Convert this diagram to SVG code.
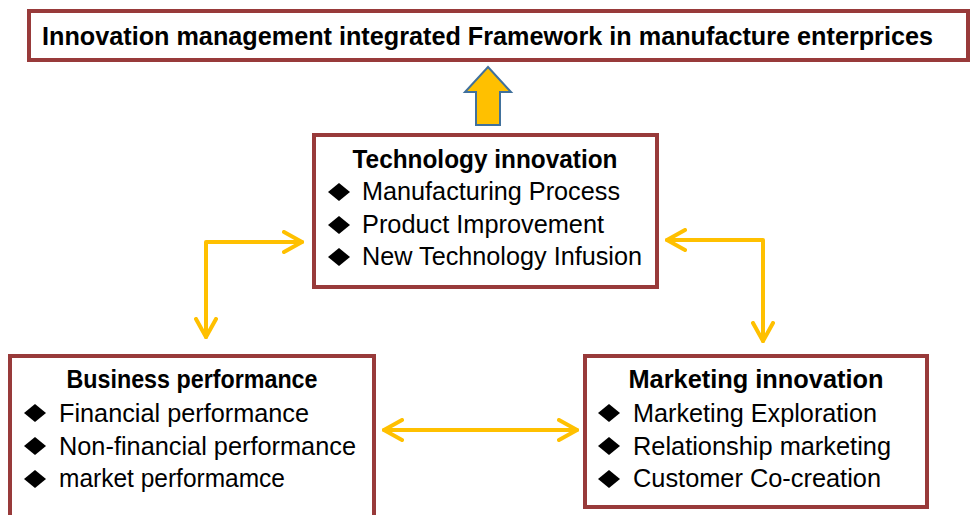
<svg xmlns="http://www.w3.org/2000/svg" xmlns:xlink="http://www.w3.org/1999/xlink" width="971" height="515" viewBox="0 0 971 515">
  <style>
    .box { fill: #ffffff; stroke: #983a3a; stroke-width: 4; }
    .title { font-family: "Liberation Sans", Arial, sans-serif; font-weight: bold; font-size: 26px; fill: #000; }
    .item { font-family: "Liberation Sans", Arial, sans-serif; font-size: 25px; fill: #000; }
    .link { fill: none; stroke: #ffc000; stroke-width: 4; stroke-linecap: round; stroke-linejoin: round; }
  </style>
  <defs>
    <polygon id="bullet" points="0,-9 11,0 0,9 -11,0" fill="#000"/>
    <marker id="chev" viewBox="0 0 22 24" refX="20" refY="12" markerWidth="22" markerHeight="24" markerUnits="userSpaceOnUse" orient="auto-start-reverse">
      <polyline points="2,2 20,12 2,22" fill="none" stroke="#ffc000" stroke-width="4" stroke-linecap="round" stroke-linejoin="round"/>
    </marker>
  </defs>

  <rect width="971" height="515" fill="#ffffff"/>

  <!-- heading banner -->
  <g id="framework">
    <rect class="box" x="29" y="11" width="939" height="49" stroke-width="3"/>
    <text class="title" x="42" y="45" textLength="891" lengthAdjust="spacingAndGlyphs">Innovation management integrated Framework in manufacture enterprices</text>
  </g>

  <!-- block arrow up to the heading -->
  <g id="up-arrow">
    <polygon points="488,67 511,92 500,92 500,125 476,125 476,92 465,92" fill="#ffc000" stroke="#41719c" stroke-width="2" stroke-linejoin="miter"/>
  </g>

  <g id="technology">
    <rect class="box" x="314" y="135" width="343" height="152"/>
    <text class="title" x="485" y="168" text-anchor="middle" textLength="265" lengthAdjust="spacingAndGlyphs">Technology innovation</text>
    <use xlink:href="#bullet" x="339" y="192"/>
    <use xlink:href="#bullet" x="339" y="225"/>
    <use xlink:href="#bullet" x="339" y="257"/>
    <text class="item" x="362" y="200" textLength="258" lengthAdjust="spacingAndGlyphs">Manufacturing Process</text>
    <text class="item" x="362" y="233" textLength="242" lengthAdjust="spacingAndGlyphs">Product Improvement</text>
    <text class="item" x="362" y="265" textLength="280" lengthAdjust="spacingAndGlyphs">New Technology Infusion</text>
  </g>

  <g id="business">
    <rect class="box" x="10" y="356" width="364" height="170"/>
    <text class="title" x="192" y="388" text-anchor="middle" textLength="251" lengthAdjust="spacingAndGlyphs">Business performance</text>
    <use xlink:href="#bullet" x="35" y="413"/>
    <use xlink:href="#bullet" x="35" y="446"/>
    <use xlink:href="#bullet" x="35" y="479"/>
    <text class="item" x="59" y="422" textLength="250" lengthAdjust="spacingAndGlyphs">Financial performance</text>
    <text class="item" x="59" y="455" textLength="297" lengthAdjust="spacingAndGlyphs">Non-financial performance</text>
    <text class="item" x="59" y="487" textLength="226" lengthAdjust="spacingAndGlyphs">market performamce</text>
  </g>

  <g id="marketing">
    <rect class="box" x="585" y="356" width="342" height="151"/>
    <text class="title" x="756" y="388" text-anchor="middle" textLength="255" lengthAdjust="spacingAndGlyphs">Marketing innovation</text>
    <use xlink:href="#bullet" x="609" y="413"/>
    <use xlink:href="#bullet" x="609" y="446"/>
    <use xlink:href="#bullet" x="609" y="479"/>
    <text class="item" x="633" y="422" textLength="244" lengthAdjust="spacingAndGlyphs">Marketing Exploration</text>
    <text class="item" x="633" y="455" textLength="258" lengthAdjust="spacingAndGlyphs">Relationship marketing</text>
    <text class="item" x="633" y="487" textLength="248" lengthAdjust="spacingAndGlyphs">Customer Co-creation</text>
  </g>

  <!-- two-way links between the blocks -->
  <g id="connectors">
    <polyline class="link" points="206,337 206,242 302,242" marker-start="url(#chev)" marker-end="url(#chev)"/>
    <polyline class="link" points="667,240 763,240 763,341" marker-start="url(#chev)" marker-end="url(#chev)"/>
    <line class="link" x1="384" y1="430" x2="577" y2="430" marker-start="url(#chev)" marker-end="url(#chev)"/>
  </g>
</svg>
